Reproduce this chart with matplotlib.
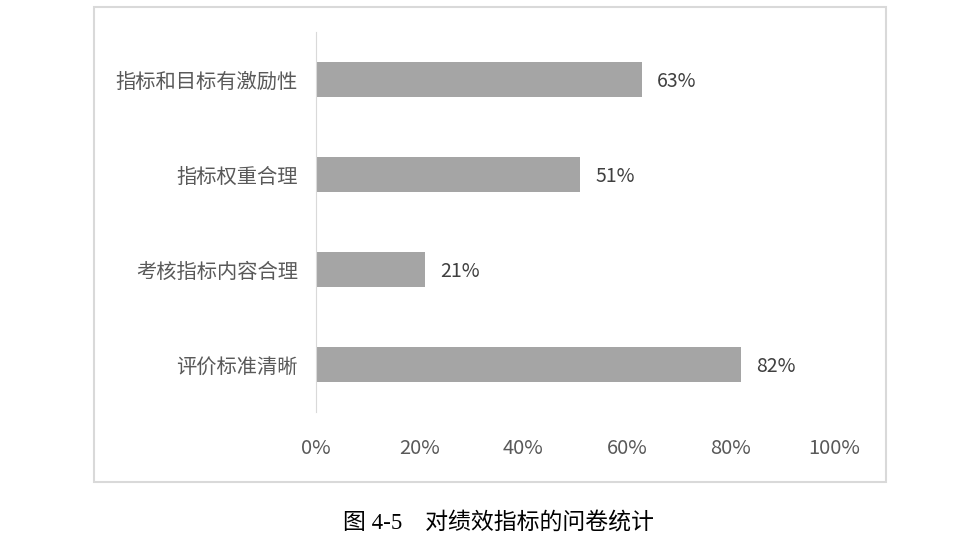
import matplotlib.pyplot as plt
from matplotlib.patches import Rectangle

plt.rcParams['font.family'] = ['Noto Sans CJK SC', 'DejaVu Sans']

# survey items, top to bottom
categories = ['指标和目标有激励性', '指标权重合理', '考核指标内容合理', '评价标准清晰']
values = [63, 51, 21, 82]
xticks = [0, 20, 40, 60, 80, 100]
xtick_labels = ['0%', '20%', '40%', '60%', '80%', '100%']
caption = '图 4-5　对绩效指标的问卷统计'

fig = plt.figure(figsize=(9.55, 5.55), dpi=100)

# light frame around the chart area
frame = Rectangle((94 / 955, 1 - 482 / 555), (886 - 94) / 955, (482 - 7) / 555,
                  transform=fig.transFigure, fill=False, edgecolor='#d9d9d9', linewidth=1.5)
fig.patches.append(frame)

ax = fig.add_axes([316 / 955, 1 - 412 / 555, (834 - 316) / 955, (412 - 32) / 555])
ax.patch.set_alpha(0)

pos = list(range(len(categories)))
ax.barh(pos, values, height=0.36, color='#a5a5a5')
ax.set_ylim(len(categories) - 0.5, -0.5)
ax.set_xlim(0, 100)

for p, v in zip(pos, values):
    ax.text(v + 2.9, p + 0.02, f'{v}%', va='center', ha='left', fontsize=14, color='#404040')

ax.set_yticks(pos)
ax.set_yticklabels(categories, fontsize=14.6, color='#595959')
ax.set_xticks(xticks)
ax.set_xticklabels(xtick_labels, fontsize=14.5, color='#595959')
ax.tick_params(axis='both', length=0)
ax.tick_params(axis='x', pad=19)
ax.tick_params(axis='y', pad=13)

for s in ['top', 'right', 'bottom']:
    ax.spines[s].set_visible(False)
ax.spines['left'].set_color('#d9d9d9')

fig.text(498 / 955, 1 - 523 / 555, caption, ha='center', va='center', fontsize=16.5,
         color='#000000', family=['Liberation Serif', 'Noto Sans CJK SC'])

fig.savefig('out.png', dpi=100)
